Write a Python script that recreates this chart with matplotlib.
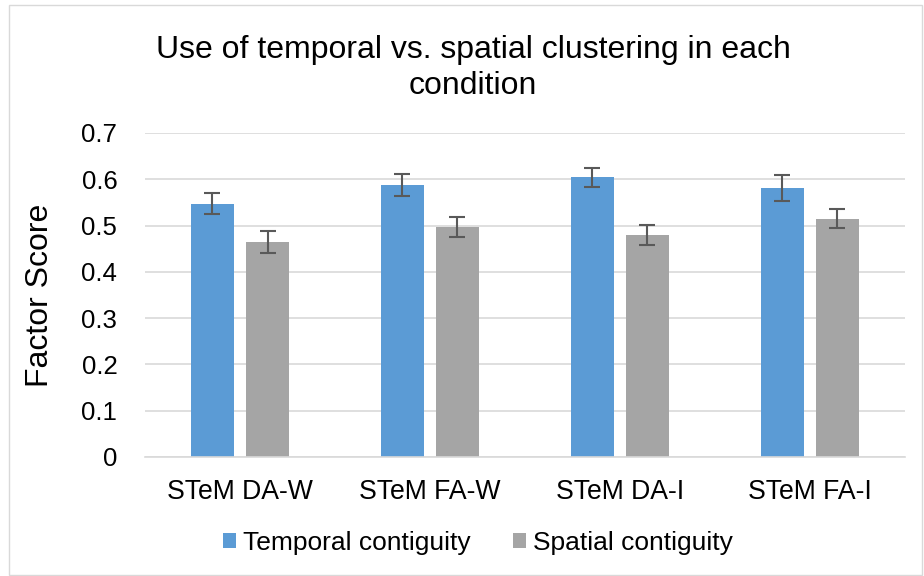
import matplotlib
matplotlib.use("Agg")
import matplotlib.pyplot as plt
import numpy as np
from matplotlib.patches import Rectangle

categories = ["STeM DA-W", "STeM FA-W", "STeM DA-I", "STeM FA-I"]
temporal = [0.547, 0.588, 0.604, 0.582]
temporal_err = [0.023, 0.024, 0.021, 0.028]
spatial = [0.464, 0.497, 0.479, 0.515]
spatial_err = [0.024, 0.022, 0.022, 0.021]
yticks = [0, 0.1, 0.2, 0.3, 0.4, 0.5, 0.6, 0.7]
ytick_labels = ["0", "0.1", "0.2", "0.3", "0.4", "0.5", "0.6", "0.7"]

plt.rcParams["font.family"] = ["Liberation Sans", "DejaVu Sans"]

fig = plt.figure(figsize=(9.24, 5.76), dpi=100)
fig.patches.append(Rectangle((0.01, 0.002), 0.988, 0.99, transform=fig.transFigure,
                             fill=False, edgecolor="#D9D9D9", linewidth=1))
ax = fig.add_axes([0.157, 0.2066, 0.822, 0.5625])

x = np.arange(len(categories))
w = 0.226
off = 0.145
ekw = dict(ecolor="#595959", elinewidth=1.5, capsize=6, capthick=1.5)
ax.bar(x - off, temporal, w, yerr=temporal_err, color="#5B9BD5",
       label="Temporal contiguity", error_kw=ekw, zorder=2)
ax.bar(x + off, spatial, w, yerr=spatial_err, color="#A5A5A5",
       label="Spatial contiguity", error_kw=ekw, zorder=2)

ax.set_xlim(-0.5, 3.5)
ax.set_ylim(0, 0.7)
ax.set_yticks(yticks)
ax.set_yticklabels(ytick_labels)
ax.set_xticks(x)
ax.set_xticklabels(categories)
ax.tick_params(axis="both", length=0, labelsize=18.5, colors="#000000")
ax.tick_params(axis="x", labelsize=19.2, pad=16)
ax.tick_params(axis="y", pad=20)
ax.yaxis.grid(True, color="#D9D9D9", linewidth=1.2, zorder=0)
ax.set_axisbelow(True)
for s in ["top", "right", "left"]:
    ax.spines[s].set_visible(False)
ax.spines["bottom"].set_color("#D9D9D9")
ax.spines["bottom"].set_linewidth(1.2)

ax.set_ylabel("Factor Score", fontsize=23)
ax.yaxis.set_label_coords(-0.118, 0.5)
fig.text(0.512, 0.94, "Use of temporal vs. spatial clustering in each\ncondition",
         ha="center", va="top", fontsize=23, linespacing=1.3)

ax.legend(loc="center", bbox_to_anchor=(0.438, -0.265), ncol=2, frameon=False,
          fontsize=19, handlelength=0.5, handleheight=0.5, handletextpad=0.25,
          columnspacing=1.6)

fig.savefig("out.png", dpi=100)
